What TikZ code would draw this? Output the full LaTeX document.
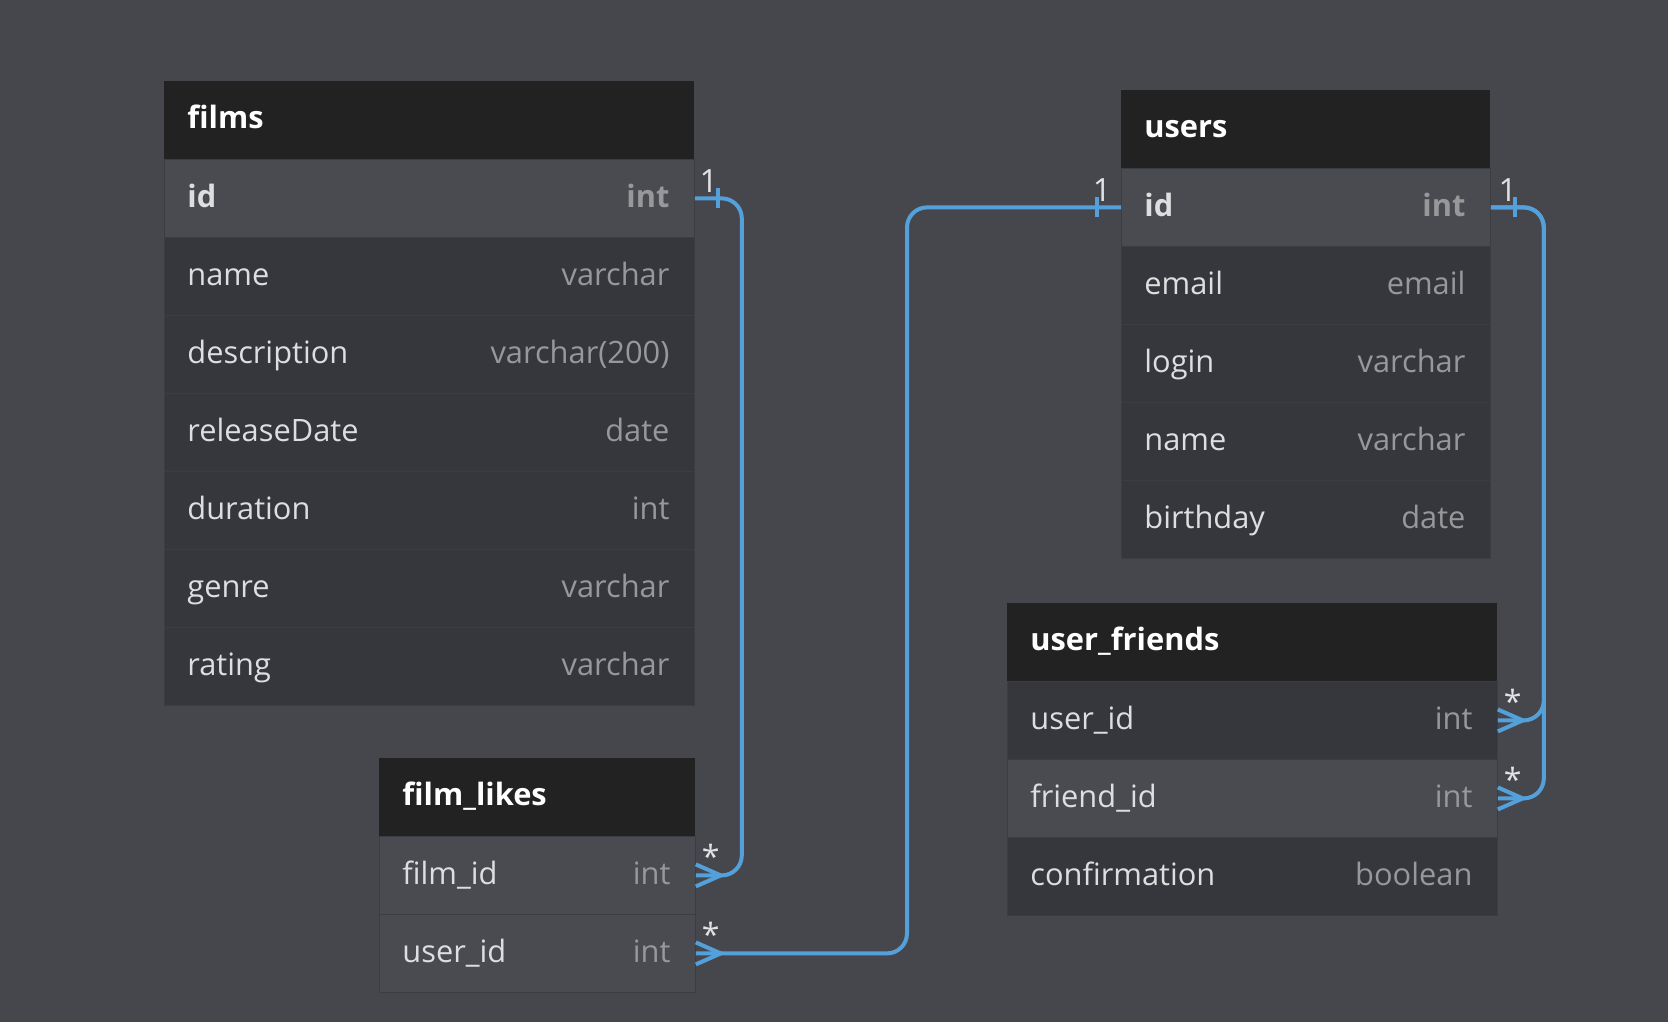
\documentclass[tikz,border=0pt]{standalone}
\usepackage{fontspec}
\setmainfont{Open Sans}
\usetikzlibrary{positioning,calc}

\definecolor{canvas}{RGB}{70,71,77}
\definecolor{headbg}{RGB}{34,34,34}
\definecolor{rowbg}{RGB}{54,55,60}
\definecolor{rowhi}{RGB}{74,75,80}
\definecolor{rowsep}{RGB}{60,61,66}
\definecolor{fieldtxt}{RGB}{222,222,224}
\definecolor{typetxt}{RGB}{152,152,155}
\definecolor{cardtxt}{RGB}{226,226,228}
\definecolor{relblue}{RGB}{84,160,218}

\begin{document}
\begin{tikzpicture}[
  x=0.5pt,y=-0.5pt,
  font=\fontsize{15.4}{18}\selectfont,
  head/.style={rectangle,fill=headbg,text=white,font=\fontsize{15.4}{18}\selectfont\bfseries,
               text width=#1,align=left,inner xsep=11.5pt,inner ysep=0pt,
               minimum height=39pt,text height=11.5pt,text depth=3pt,anchor=north west},
  row/.style={rectangle,fill=rowbg,draw=rowsep,line width=0.4pt,text=fieldtxt,
              text width=#1,align=left,inner xsep=11.5pt,inner ysep=0pt,
              minimum height=39pt,text height=12pt,text depth=2.5pt,anchor=north west},
  keyfont/.style={font=\fontsize{15.4}{18}\selectfont\bfseries},
  pk/.style={fill=rowhi,keyfont},
  hl/.style={fill=rowhi},
  ftype/.style={anchor=east,inner xsep=12.5pt,inner ysep=0pt,text=typetxt,
                text height=12pt,text depth=2.5pt},
  card/.style={anchor=base,text=cardtxt,inner sep=0pt,font=\fontsize{16}{18}\selectfont},
  rel/.style={draw=relblue,line width=2pt,rounded corners=10pt},
  crow/.pic={\draw[relblue,line width=2pt] (0,-11) -- (25,0) -- (0,11);},
  one/.pic={\draw[relblue,line width=2pt] (0,-10) -- (0,10);}
]

\path[fill=canvas,use as bounding box] (0,0) rectangle (1668,1022);

% ===================== films =====================
\node[head=242pt] (films) at (164,81) {films};
\node[row=242pt,pk] (films-id) at (164,159) {id};
\node[ftype,keyfont] (films-id-t) at (films-id.east) {int};
\foreach \f/\t [count=\i] in {name/varchar,description/varchar(200),releaseDate/date,
                              duration/int,genre/varchar,rating/varchar}{
  \node[row=242pt] (films-\i) at (164,{159+78*\i}) {\f};
  \node[ftype] (films-t\i) at (films-\i.east) {\t};
}

% ===================== film_likes =====================
\node[head=135pt] (fl) at (379,758) {film\_likes};
\node[row=135pt,hl] (fl-film) at (379,836) {film\_id};
\node[ftype] (fl-film-t) at (fl-film.east) {int};
\node[row=135pt,hl] (fl-user) at (379,914) {user\_id};
\node[ftype] (fl-user-t) at (fl-user.east) {int};

% ===================== users =====================
\node[head=161.5pt] (users) at (1121,90) {users};
\node[row=161.5pt,pk] (users-id) at (1121,168) {id};
\node[ftype,keyfont] (users-id-t) at (users-id.east) {int};
\foreach \f/\t [count=\i] in {email/email,login/varchar,name/varchar,birthday/date}{
  \node[row=161.5pt] (users-\i) at (1121,{168+78*\i}) {\f};
  \node[ftype] (users-t\i) at (users-\i.east) {\t};
}

% ===================== user_friends =====================
\node[head=222pt] (uf) at (1007,603) {user\_friends};
\node[row=222pt] (uf-user) at (1007,681) {user\_id};
\node[ftype] (uf-user-t) at (uf-user.east) {int};
\node[row=222pt,hl] (uf-friend) at (1007,759) {friend\_id};
\node[ftype] (uf-friend-t) at (uf-friend.east) {int};
\node[row=222pt] (uf-conf) at (1007,837) {confirmation};
\node[ftype] (uf-conf-t) at (uf-conf.east) {boolean};

% ---- relations ----
% films.id 1 -- * film_likes.film_id
\draw[rel] (films-id.east) -- ++(47,0) |- (fl-film.east);
\path (films-id.east) ++(23,0) pic {one};
\path (fl-film.east) pic {crow};
\node[card] (c-films) at ($(films-id.east)+(14,-6)$) {1};
\node[card] (c-flfilm) at ($(fl-film.east)+(15,-7)$) {*};

% users.id 1 -- * film_likes.user_id
\draw[rel] (users-id.west) -- ++(-214,0) |- (fl-user.east);
\path (users-id.west) ++(-24,0) pic {one};
\path (fl-user.east) pic {crow};
\node[card] (c-usersl) at ($(users-id.west)+(-19,-6)$) {1};
\node[card] (c-fluser) at ($(fl-user.east)+(15,-7)$) {*};

% users.id 1 -- * user_friends.user_id / friend_id
\draw[rel] (users-id.east) -- ++(53,0) |- (uf-user.east);
\draw[rel] (users-id.east) -- ++(53,0) |- (uf-friend.east);
\path (users-id.east) ++(24,0) pic {one};
\path (uf-user.east) pic {crow};
\path (uf-friend.east) pic {crow};
\node[card] (c-usersr) at ($(users-id.east)+(17,-6)$) {1};
\node[card] (c-ufuser) at ($(uf-user.east)+(15,-7)$) {*};
\node[card] (c-uffriend) at ($(uf-friend.east)+(15,-7)$) {*};

\end{tikzpicture}
\end{document}
